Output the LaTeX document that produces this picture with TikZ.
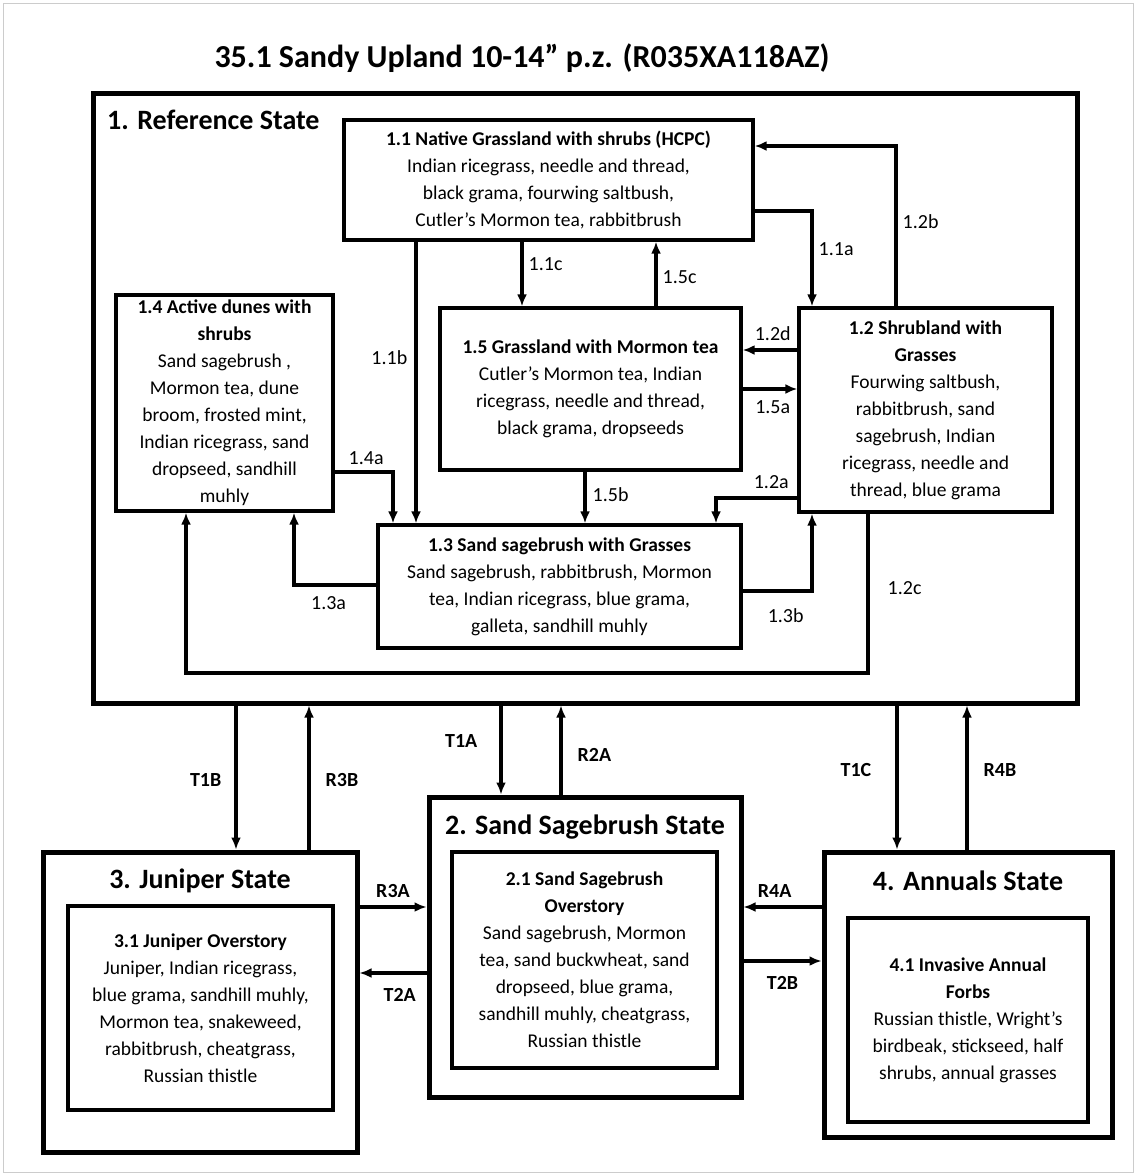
\documentclass[tikz,border=0pt]{standalone}
\usepackage{fontspec}
\setmainfont{Carlito}
\usepackage{tikz}
\usetikzlibrary{positioning,arrows.meta}
\tikzset{
  state/.style  = {draw, line width=5pt, inner sep=0pt},
  stitle/.style = {font=\bfseries\fontsize{28}{32}\selectfont, inner sep=0pt},
  phase/.style  = {draw, line width=3.4pt, align=center, inner sep=0pt,
                   font=\fontsize{19.5}{27}\selectfont},
  post/.style   = {-{Latex[length=12pt,width=10pt]}, line width=3.4pt},
  lab/.style    = {font=\fontsize{20}{22}\selectfont, inner sep=0pt},
  blab/.style   = {font=\bfseries\fontsize{20}{22}\selectfont, inner sep=0pt}
}

\begin{document}
\begin{tikzpicture}[x=1pt, y=-1pt]
  \useasboundingbox (0,0) rectangle (1136,1175);
  \draw[gray!40, line width=1pt] (3,3) rectangle (1133,1172);

  \node[font=\bfseries\fontsize{32}{36}\selectfont] (title) at (522,58)
       {35.1 Sandy Upland 10-14” p.z. (R035XA118AZ)};

  % reference state
  \node[state, minimum width=984pt, minimum height=610pt] (st1) at (585,398) {};
  \node[stitle, anchor=west] (st1t) at (107,120) {1. Reference State};

  \node[phase, minimum width=409pt, minimum height=120pt] (p11) at (548.5,180)
       {\textbf{1.1 Native Grassland  with shrubs (HCPC)}\\
        Indian ricegrass, needle and thread,\\
        black grama, fourwing saltbush,\\
        Cutler’s Mormon tea,  rabbitbrush};
  \node[phase, minimum width=217pt, minimum height=216pt] (p14) at (224.5,403)
       {\textbf{1.4 Active dunes with}\\ \textbf{shrubs}\\
        Sand sagebrush ,\\ Mormon tea, dune\\ broom, frosted mint,\\
        Indian ricegrass,  sand\\ dropseed, sandhill\\ muhly};
  \node[phase, minimum width=301pt, minimum height=162pt] (p15) at (590.5,389)
       {\textbf{1.5 Grassland  with Mormon tea}\\
        Cutler’s Mormon tea, Indian\\
        ricegrass, needle and thread,\\
        black grama,  dropseeds};
  \node[phase, minimum width=253pt, minimum height=204pt] (p12) at (925.5,410)
       {\textbf{1.2 Shrubland with}\\ \textbf{Grasses}\\
        Fourwing saltbush,\\ rabbitbrush, sand\\ sagebrush, Indian\\
        ricegrass, needle and\\ thread, blue grama};
  \node[phase, minimum width=363pt, minimum height=123pt] (p13) at (559.5,586.5)
       {\textbf{1.3 Sand sagebrush  with Grasses}\\
        Sand sagebrush, rabbitbrush, Mormon\\
        tea, Indian ricegrass,  blue grama,\\
        galleta, sandhill muhly};

  % pathways inside the reference state
  \draw[post] (522,0 |- p11.south) -- node[lab, right=5pt, pos=0.35] {1.1c} (522,0 |- p15.north);
  \draw[post] (656,0 |- p15.north) -- node[lab, right=5pt, pos=0.45] {1.5c} (656,0 |- p11.south);
  \draw[post] (p11.east |- 0,211) -| node[lab, right=5pt, pos=0.7] {1.1a} (812,0 |- p12.north);
  \draw[post] (896,0 |- p12.north) |- node[lab, right=5pt, pos=0.265] {1.2b} (p11.east |- 0,146);
  \draw[post] (416,0 |- p11.south) -- node[lab, left=7pt, pos=0.41] {1.1b} (416,0 |- p13.north);
  \draw[post] (p14.east |- 0,472) -| node[lab, above=6pt, pos=0.27] {1.4a} (393,0 |- p13.north);
  \draw[post] (585,0 |- p15.south) -- node[lab, right=6pt, pos=0.44] {1.5b} (585,0 |- p13.north);
  \draw[post] (p12.west |- 0,350) -- node[lab, above=8pt, pos=0.45] {1.2d} (p15.east |- 0,350);
  \draw[post] (p15.east |- 0,389) -- node[lab, below=10pt, pos=0.55] {1.5a} (p12.west |- 0,389);
  \draw[post] (p12.west |- 0,498) -| node[lab, above=8pt, pos=0.16] {1.2a} (716,0 |- p13.north);
  \draw[post] (p13.west |- 0,585) -| node[lab, below=10pt, pos=0.29] {1.3a} (294,0 |- p14.south);
  \draw[post] (p13.east |- 0,591) -| node[lab, below=16pt, pos=0.31] {1.3b} (812,0 |- p12.south);
  \coordinate (c12c) at (868,673);
  \draw[post] (868,0 |- p12.south) -- node[lab, right=18pt, pos=0.47] {1.2c} (c12c)
              -| (186,0 |- p14.south);

  % other states
  \node[state, minimum width=314pt, minimum height=300pt] (st3) at (200,1002) {};
  \node[stitle, below=19pt of st3.north] (st3t) {3. Juniper State};
  \node[phase, minimum width=265pt, minimum height=204pt] (p31) at (200.5,1008)
       {\textbf{3.1 Juniper Overstory}\\
        Juniper, Indian ricegrass,\\ blue grama, sandhill muhly,\\
        Mormon tea, snakeweed,\\ rabbitbrush, cheatgrass,\\ Russian thistle};

  \node[state, minimum width=312pt, minimum height=300pt] (st2) at (585,947) {};
  \node[stitle, below=20pt of st2.north] (st2t) {2. Sand Sagebrush State};
  \node[phase, minimum width=265pt, minimum height=216pt] (p21) at (584.5,960)
       {\textbf{2.1 Sand Sagebrush}\\ \textbf{Overstory}\\
        Sand sagebrush, Mormon\\ tea, sand buckwheat, sand\\
        dropseed, blue grama,\\ sandhill muhly, cheatgrass,\\ Russian thistle};

  \node[state, minimum width=288pt, minimum height=285pt] (st4) at (968,994.5) {};
  \node[stitle, below=21pt of st4.north] (st4t) {4. Annuals State};
  \node[phase, minimum width=240pt, minimum height=204pt] (p41) at (968,1020)
       {\textbf{4.1 Invasive Annual}\\ \textbf{Forbs}\\
        Russian thistle, Wright’s\\ birdbeak, stickseed, half\\
        shrubs, annual grasses};

  % transitions and restorations
  \draw[post] (236,0 |- st1.south) -- node[blab, left=13pt, pos=0.52] {T1B} (236,0 |- st3.north);
  \draw[post] (309,0 |- st3.north) -- node[blab, right=15pt, pos=0.48] {R3B} (309,0 |- st1.south);
  \draw[post] (501,0 |- st1.south) -- node[blab, left=22pt, pos=0.40] {T1A} (501,0 |- st2.north);
  \draw[post] (561,0 |- st2.north) -- node[blab, right=15pt, pos=0.45] {R2A} (561,0 |- st1.south);
  \draw[post] (897,0 |- st1.south) -- node[blab, left=24pt, pos=0.45] {T1C} (897,0 |- st4.north);
  \draw[post] (967,0 |- st4.north) -- node[blab, right=15pt, pos=0.55] {R4B} (967,0 |- st1.south);
  \draw[post] (st3.east |- 0,907) -- node[blab, above=8pt] {R3A} (st2.west |- 0,907);
  \draw[post] (st2.west |- 0,973) -- node[blab, below=14pt, pos=0.4] {T2A} (st3.east |- 0,973);
  \draw[post] (st4.west |- 0,907) -- node[blab, above=8pt, pos=0.6] {R4A} (st2.east |- 0,907);
  \draw[post] (st2.east |- 0,961) -- node[blab, below=14pt, pos=0.5] {T2B} (st4.west |- 0,961);
\end{tikzpicture}
\end{document}
